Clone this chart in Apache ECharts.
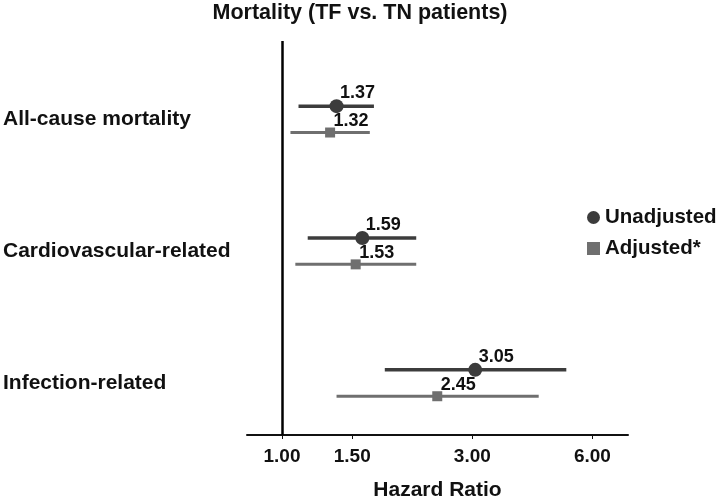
<!DOCTYPE html>
<html>
<head>
<meta charset="utf-8">
<title>Mortality (TF vs. TN patients)</title>
<script src="https://cdn.jsdelivr.net/npm/echarts@6/dist/echarts.min.js"></script>
<style>
  html, body { margin: 0; padding: 0; background: #fff; }
  #chart { width: 720px; height: 498px; }
</style>
</head>
<body>
<div id="chart"></div>
<script>
'use strict';

// categories top to bottom
var categories = ['All-cause mortality', 'Cardiovascular-related', 'Infection-related'];

// hazard ratios and 95% CI
var unadjHR = [1.37, 1.59, 3.05];
var unadjLow = [1.10, 1.16, 1.81];
var unadjHigh = [1.70, 2.17, 5.16];

var adjHR = [1.32, 1.53, 2.45];
var adjLow = [1.05, 1.08, 1.37];
var adjHigh = [1.66, 2.17, 4.40];

// x tick labels (hazard ratio)
var xTicks = [1.00, 1.50, 3.00, 6.00];

var FONT = 'Liberation Sans, Arial, sans-serif';
var UNADJ_COLOR = '#3c3c3c';
var ADJ_COLOR = '#6f6f6f';

// x axis drawn in ln(HR), labels turned back into HR
function ln(v) { return Math.log(v); }

function pointData(hr, offset) {
    return hr.map(function (v, i) { return [ln(v), i + offset, v]; });
}

function ciData(lo, hi, offset) {
    return lo.map(function (v, i) { return [i + offset, ln(v), ln(hi[i])]; });
}

function ciSeries(lo, hi, offset, color, width) {
    return {
        type: 'custom',
        silent: true,
        z: 2,
        encode: { x: [1, 2], y: 0 },
        renderItem: function (params, api) {
            var y = api.value(0);
            var a = api.coord([api.value(1), y]);
            var b = api.coord([api.value(2), y]);
            return {
                type: 'line',
                shape: { x1: a[0], y1: a[1], x2: b[0], y2: b[1] },
                style: { stroke: color, lineWidth: width }
            };
        },
        data: ciData(lo, hi, offset)
    };
}

function pointLabel(dy) {
    return {
        show: true,
        position: 'inside',
        offset: [21, dy],
        color: '#111',
        fontFamily: FONT,
        fontWeight: 'bold',
        fontSize: 18,
        formatter: function (p) { return p.value[2].toFixed(2); }
    };
}

var myChart = echarts.init(document.getElementById('chart'));

var option = {
    animation: false,
    title: {
        text: 'Mortality (TF vs. TN patients)',
        left: 'center',
        top: -3,
        textStyle: { fontFamily: FONT, fontWeight: 'bold', fontSize: 21.5, color: '#111' }
    },
    legend: {
        orient: 'vertical',
        left: 582,
        top: 202,
        itemWidth: 13,
        itemHeight: 13,
        itemGap: 10,
        data: [
            { name: 'Unadjusted', icon: 'circle' },
            { name: 'Adjusted*', icon: 'rect' }
        ],
        textStyle: { fontFamily: FONT, fontWeight: 'bold', fontSize: 20.5, color: '#111' }
    },
    grid: { left: 247, right: 92, top: 41, bottom: 63, outerBoundsMode: 'none' },
    xAxis: {
        type: 'value',
        min: -0.202,
        max: 1.997,
        name: 'Hazard Ratio',
        nameLocation: 'middle',
        nameGap: 45,
        nameTextStyle: { fontFamily: FONT, fontWeight: 'bold', fontSize: 21, color: '#111' },
        splitLine: { show: false },
        axisLine: { onZero: false, lineStyle: { color: '#111', width: 2 } },
        axisTick: {
            show: true,
            length: 4,
            customValues: xTicks.map(ln),
            lineStyle: { color: '#111', width: 1 }
        },
        axisLabel: {
            margin: 12,
            customValues: xTicks.map(ln),
            color: '#111',
            fontFamily: FONT,
            fontWeight: 'bold',
            fontSize: 19,
            formatter: function (v) { return Math.exp(v).toFixed(2); }
        }
    },
    yAxis: {
        type: 'value',
        inverse: true,
        min: -0.594,
        max: 2.394,
        splitLine: { show: false },
        axisLine: { show: false },
        axisTick: { show: false },
        axisLabel: {
            align: 'left',
            margin: 244,
            customValues: [0, 1, 2],
            color: '#111',
            fontFamily: FONT,
            fontWeight: 'bold',
            fontSize: 21,
            formatter: function (v) { return categories[Math.round(v)]; }
        }
    },
    series: [
        ciSeries(unadjLow, unadjHigh, -0.1, UNADJ_COLOR, 3.5),
        ciSeries(adjLow, adjHigh, 0.1, ADJ_COLOR, 3),
        {
            name: 'Unadjusted',
            type: 'scatter',
            symbol: 'circle',
            symbolSize: 14,
            z: 3,
            itemStyle: { color: UNADJ_COLOR, opacity: 1 },
            label: pointLabel(-13),
            data: pointData(unadjHR, -0.1),
            markLine: {
                silent: true,
                symbol: ['none', 'none'],
                label: { show: false },
                lineStyle: { color: '#000', width: 2.5, type: 'solid' },
                data: [{ xAxis: 0 }]
            }
        },
        {
            name: 'Adjusted*',
            type: 'scatter',
            symbol: 'rect',
            symbolSize: 10,
            z: 3,
            itemStyle: { color: ADJ_COLOR, opacity: 1 },
            label: pointLabel(-11),
            data: pointData(adjHR, 0.1)
        }
    ]
};

myChart.setOption(option);
</script>
</body>
</html>
